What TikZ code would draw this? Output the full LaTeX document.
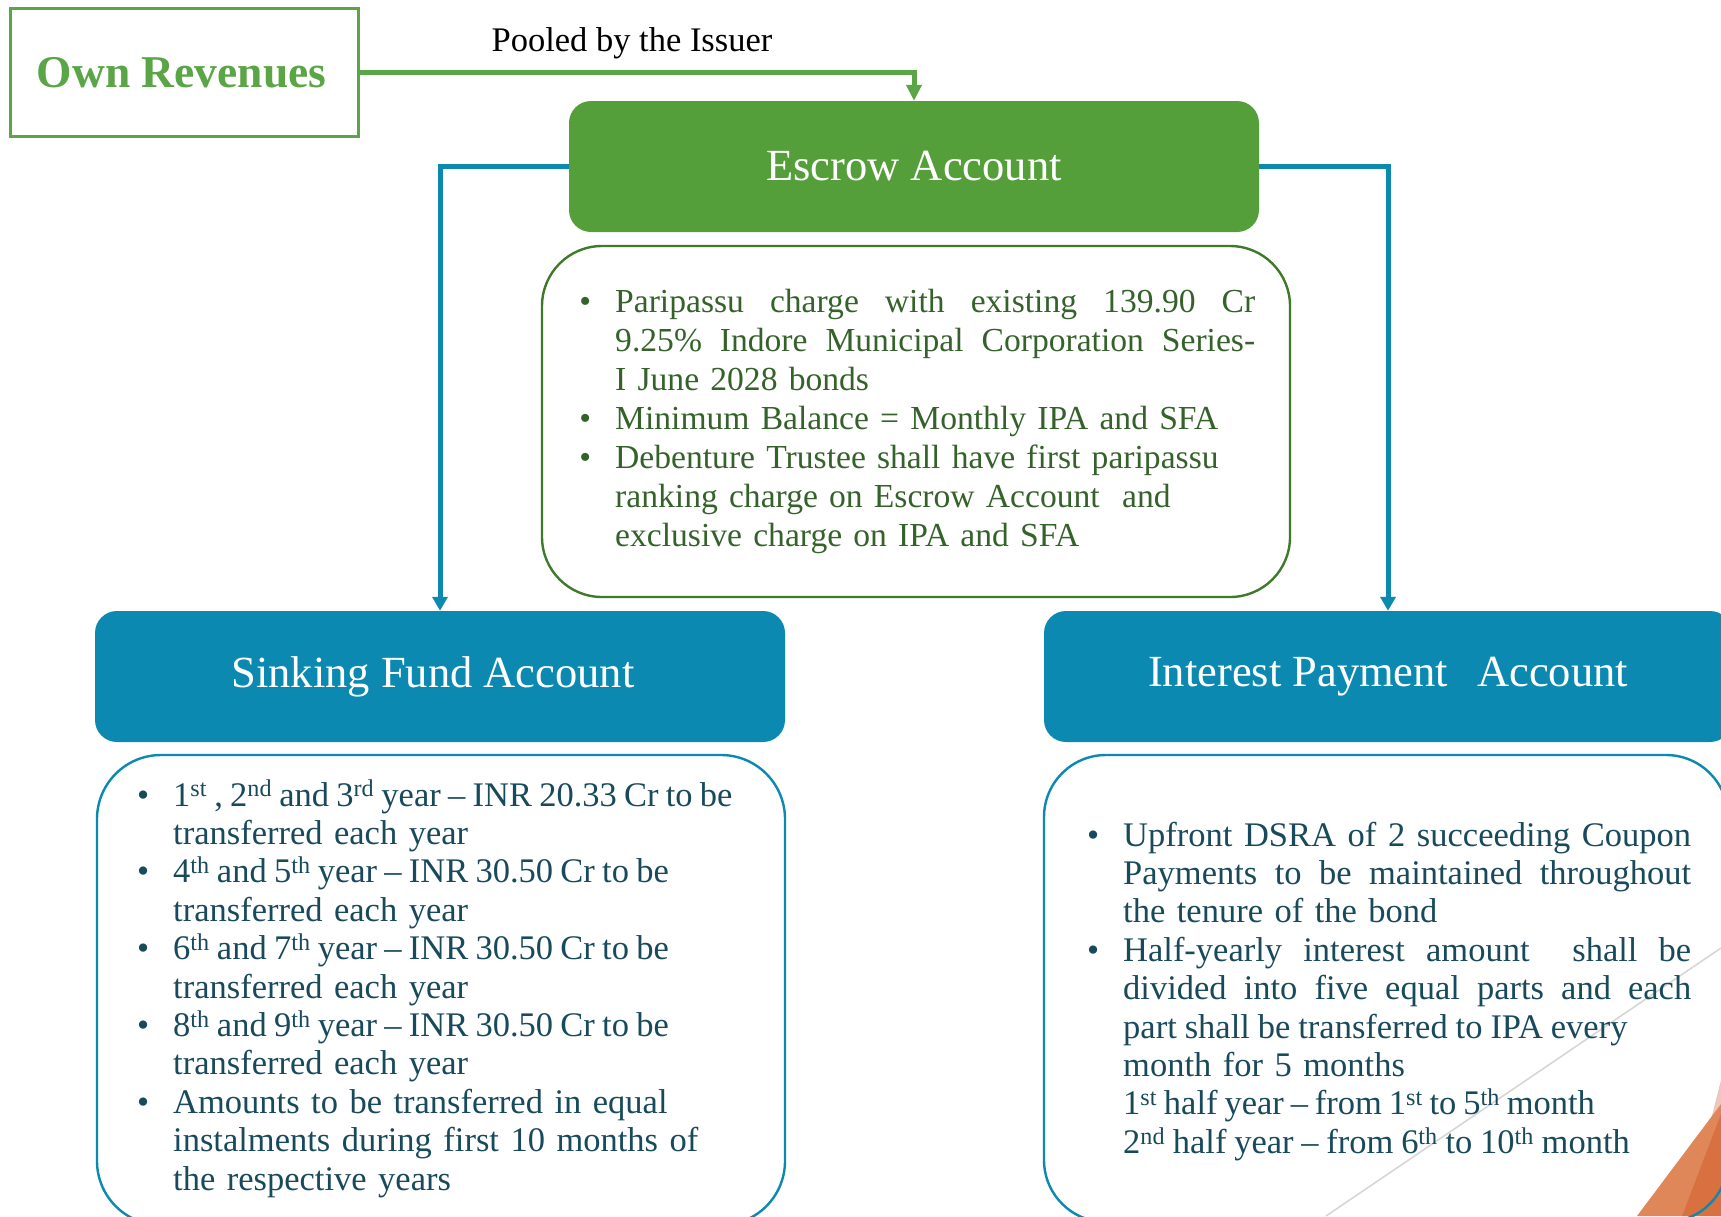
\documentclass[tikz,border=0pt]{standalone}
\usepackage{fontspec}
\setmainfont{Liberation Serif}
\usetikzlibrary{arrows.meta}

\definecolor{ownGreen}{HTML}{5AA545}
\definecolor{escGreen}{HTML}{559F3B}
\definecolor{boxGreen}{HTML}{3F7A2B}
\definecolor{txtGreen}{HTML}{34622A}
\definecolor{accBlue}{HTML}{0B89B1}
\definecolor{txtBlue}{HTML}{184A5B}
\definecolor{lineGray}{HTML}{D6D6D6}
\definecolor{orangeA}{HTML}{E0875A}
\definecolor{orangeB}{HTML}{D8713F}
\definecolor{orangePale}{HTML}{EAC9BB}

\newcommand{\bodyfont}{\fontsize{34.5}{38.4}\selectfont}
\newcommand{\escfont}{\fontsize{33.6}{39}\selectfont}
\newcommand{\headfont}{\fontsize{44.5}{50}\selectfont}
\newcommand{\bul}{\makebox[0pt][r]{\textbullet\hspace{24pt}}}
% a full-width line whose words are spread with \hfill
\newcommand{\jline}[2]{\makebox[#1][l]{#2}}
% a line set with narrower word spaces
\newcommand{\tight}[2][0.21em]{{\spaceskip=#1\relax #2}}

\tikzset{
  headbox/.style={rounded corners=22pt, inner sep=0pt, text=white, font=\headfont},
  infobox/.style={draw, line width=2.4pt, rounded corners=#1, inner sep=0pt},
  bodytext/.style={anchor=base west, inner sep=0pt, align=left, text width=#1},
  greenflow/.style={draw=ownGreen, line width=5pt, -{Triangle[width=15pt,length=16pt]}},
  blueflow/.style={draw=accBlue, line width=5pt, -{Triangle[width=15pt,length=14pt]}},
}

\begin{document}
\begin{tikzpicture}[x=1pt, y=-1pt]
\useasboundingbox (0,0) rectangle (1721,1216);
\clip (0,0) rectangle (1721,1216);

% slide ornaments in the lower right corner
\draw[lineGray, line width=1.6pt] (1326,1216) -- (1721,948);
\fill[orangePale] (1707,1135) -- (1721,1080) -- (1721,1112) -- cycle;
\fill[orangeA] (1637,1216) -- (1721,1104) -- (1721,1216) -- cycle;
\fill[orangeB] (1682,1216) -- (1721,1114) -- (1721,1216) -- cycle;

% source of funds
\node[draw=ownGreen, line width=2.6pt, minimum width=348pt, minimum height=128pt, inner sep=0pt,
      text=ownGreen, font=\fontsize{45.5}{50}\selectfont\bfseries] (own) at (184.5,72.5) {\hspace{-6pt}Own Revenues};
\node[inner sep=0pt, font=\fontsize{34.5}{40}\selectfont] (pooled) at (632,43) {Pooled by the Issuer};

% escrow account
\node[headbox, fill=escGreen, minimum width=690pt, minimum height=131pt] (escrow) at (914,166.5) {\raisebox{-2pt}{Escrow Account}};
\node[infobox=60pt, draw=boxGreen, minimum width=748pt, minimum height=351pt] (escinfo) at (916,421.5) {};
\node[bodytext=642pt, text=txtGreen, font=\escfont] (esctext) at (615,312) {%
\bul\jline{640pt}{Paripassu\hfill charge\hfill with\hfill existing\hfill 139.90\hfill Cr}\\
\jline{640pt}{9.25\%\hfill Indore\hfill Municipal\hfill Corporation\hfill Series-}\\
I June 2028 bonds\\
\bul Minimum Balance = Monthly IPA and SFA\\
\bul Debenture Trustee shall have first paripassu\\
ranking charge on Escrow Account\ \ and\\
exclusive charge on IPA and SFA};

% sinking fund account
\node[headbox, fill=accBlue, minimum width=690pt, minimum height=131pt] (sink) at (440,676.5) {\hspace{-14pt}\raisebox{-5pt}{Sinking Fund Account}};
\node[infobox=64pt, draw=accBlue, minimum width=688pt, minimum height=470pt] (sinkinfo) at (441,990) {};
\node[bodytext=650pt, text=txtBlue, font=\bodyfont] (sinktext) at (173,806) {%
\bul\tight{1\textsuperscript{st} , 2\textsuperscript{nd} and 3\textsuperscript{rd} year \textendash{} INR 20.33 Cr to be}\\
transferred each year\\
\bul\tight{4\textsuperscript{th} and 5\textsuperscript{th} year \textendash{} INR 30.50 Cr to be}\\
transferred each year\\
\bul\tight{6\textsuperscript{th} and 7\textsuperscript{th} year \textendash{} INR 30.50 Cr to be}\\
transferred each year\\
\bul\tight{8\textsuperscript{th} and 9\textsuperscript{th} year \textendash{} INR 30.50 Cr to be}\\
transferred each year\\
\bul Amounts to be transferred in equal\\
instalments during first 10 months of\\
the respective years};

% interest payment account
\node[headbox, fill=accBlue, minimum width=688pt, minimum height=131pt] (ipa) at (1388,676.5) {\raisebox{-5pt}{Interest Payment\hspace{0.4em} Account}};
\node[infobox=62pt, draw=accBlue, minimum width=684pt, minimum height=467pt] (ipainfo) at (1386,988.5) {};
\node[bodytext=572pt, text=txtBlue, font=\bodyfont] (ipatext) at (1123,846) {%
\bul\jline{568pt}{Upfront\hfill DSRA\hfill of\hfill 2\hfill succeeding\hfill Coupon}\\
\jline{568pt}{Payments\hfill to\hfill be\hfill maintained\hfill throughout}\\
the tenure of the bond\\
\bul\jline{568pt}{Half-yearly\hfill interest\hfill amount\hfill\hspace{10pt} shall\hfill be}\\
\jline{568pt}{divided\hfill into\hfill five\hfill equal\hfill parts\hfill and\hfill each}\\
\tight[0.23em]{part shall be transferred to IPA every}\\
month for 5 months\\
\tight[0.2em]{1\textsuperscript{st} half year \textendash{} from 1\textsuperscript{st} to 5\textsuperscript{th} month}\\
\tight[0.225em]{2\textsuperscript{nd} half year \textendash{} from 6\textsuperscript{th} to 10\textsuperscript{th} month}};

% flows between accounts
\draw[greenflow] (own.east) -| (escrow.north);
\draw[blueflow] (escrow.west) -| (sink.north);
\draw[blueflow] (escrow.east) -| (ipa.north);
\end{tikzpicture}
\end{document}
